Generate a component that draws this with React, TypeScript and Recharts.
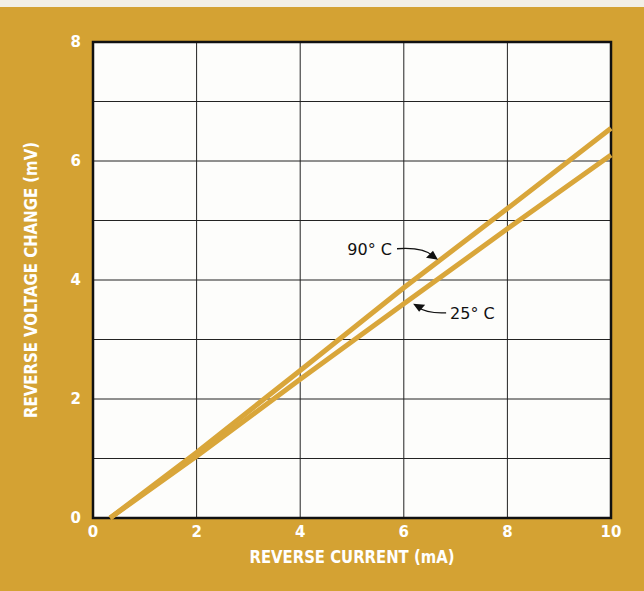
import {
  CartesianGrid,
  Line,
  LineChart,
  ReferenceArea,
  ReferenceDot,
  XAxis,
  YAxis,
} from 'recharts';

// reverse current (mA) sampled along both curves
const currents = [0.33, 2, 4, 6, 8, 10];
const volt90 = [0, 1.1, 2.48, 3.87, 5.2, 6.55];
const volt25 = [0, 1.04, 2.33, 3.6, 4.86, 6.1];

const xTicks = [0, 2, 4, 6, 8, 10];
const yTicks = [0, 1, 2, 3, 4, 5, 6, 7, 8];

const gold = '#d4a233';
const lineGold = '#d9a63a';
const font = '"DejaVu Sans", sans-serif';

const data = currents.map((x, i) => ({ x, t90: volt90[i], t25: volt25[i] }));

const tickStyle = { fill: '#fff', fontSize: 15, fontWeight: 700, fontFamily: font };

function Arrow90(props: any) {
  const { cx, cy } = props;
  // tip sits on the 90°C line, label to the upper left
  return (
    <g>
      <path d={`M${cx - 41},${cy - 11} Q${cx - 14},${cy - 13} ${cx - 4},${cy - 3}`} fill="none" stroke="#111" strokeWidth={1.3} />
      <path d={`M${cx},${cy} L${cx - 12},${cy - 2} L${cx - 5},${cy - 9} Z`} fill="#111" />
      <text x={cx - 46} y={cy - 5} textAnchor="end" fontSize={16} fontFamily={font} fill="#111">
        90° C
      </text>
    </g>
  );
}

function Arrow25(props: any) {
  const { cx, cy } = props;
  return (
    <g>
      <path d={`M${cx + 33},${cy + 9} Q${cx + 14},${cy + 10} ${cx + 4},${cy + 3}`} fill="none" stroke="#111" strokeWidth={1.3} />
      <path d={`M${cx},${cy} L${cx + 12},${cy + 1} L${cx + 6},${cy + 8} Z`} fill="#111" />
      <text x={cx + 37} y={cy + 15} textAnchor="start" fontSize={16} fontFamily={font} fill="#111">
        25° C
      </text>
    </g>
  );
}

function XTitle(props: any) {
  const { x, y, width } = props.viewBox;
  return (
    <text x={x + width / 2} y={y + 45} textAnchor="middle" fill="#fff" fontSize={18} fontWeight={700} fontFamily={font}
      textLength={205} lengthAdjust="spacingAndGlyphs">
      REVERSE CURRENT (mA)
    </text>
  );
}

function YTitle(props: any) {
  const { x, y, height } = props.viewBox;
  const cx = x + 4;
  const cy = y + height / 2;
  return (
    <text x={cx} y={cy} transform={`rotate(-90 ${cx} ${cy})`} textAnchor="middle" fill="#fff" fontSize={18} fontWeight={700}
      fontFamily={font} textLength={276} lengthAdjust="spacingAndGlyphs">
      REVERSE VOLTAGE CHANGE (mV)
    </text>
  );
}

export default function App() {
  return (
    <div style={{ position: 'absolute', left: 0, top: 0, width: 644, height: 591, background: gold }}>
      <div style={{ position: 'absolute', left: 0, top: 0, width: 644, height: 7, background: '#f2efe6' }} />
      <div style={{ position: 'absolute', left: 0, top: 0 }}>
        <LineChart width={644} height={591} data={data} margin={{ top: 42, right: 33, bottom: 0, left: 33 }}>
          <CartesianGrid fill="#fdfdfb" stroke="#222" strokeWidth={1} />
          <XAxis
            dataKey="x"
            type="number"
            domain={[0, 10]}
            ticks={xTicks}
            height={73}
            tickSize={0}
            tickMargin={8}
            axisLine={false}
            tick={tickStyle}
            label={{ content: XTitle }}
          />
          <YAxis
            type="number"
            domain={[0, 8]}
            ticks={yTicks}
            width={60}
            tickSize={0}
            tickMargin={12}
            axisLine={false}
            tick={tickStyle}
            tickFormatter={(v: number) => (v % 2 === 0 ? String(v) : '')}
            label={{ content: YTitle }}
          />
          <ReferenceArea x1={0} x2={10} y1={0} y2={8} fill="none" stroke="#111" strokeWidth={2.5} fillOpacity={0} />
          <Line type="linear" dataKey="t90" stroke={lineGold} strokeWidth={5} dot={false} isAnimationActive={false} />
          <Line type="linear" dataKey="t25" stroke={lineGold} strokeWidth={5} dot={false} isAnimationActive={false} />
          <ReferenceDot x={6.66} y={4.34} r={0} shape={Arrow90} />
          <ReferenceDot x={6.18} y={3.6} r={0} shape={Arrow25} />
        </LineChart>
      </div>
    </div>
  );
}
